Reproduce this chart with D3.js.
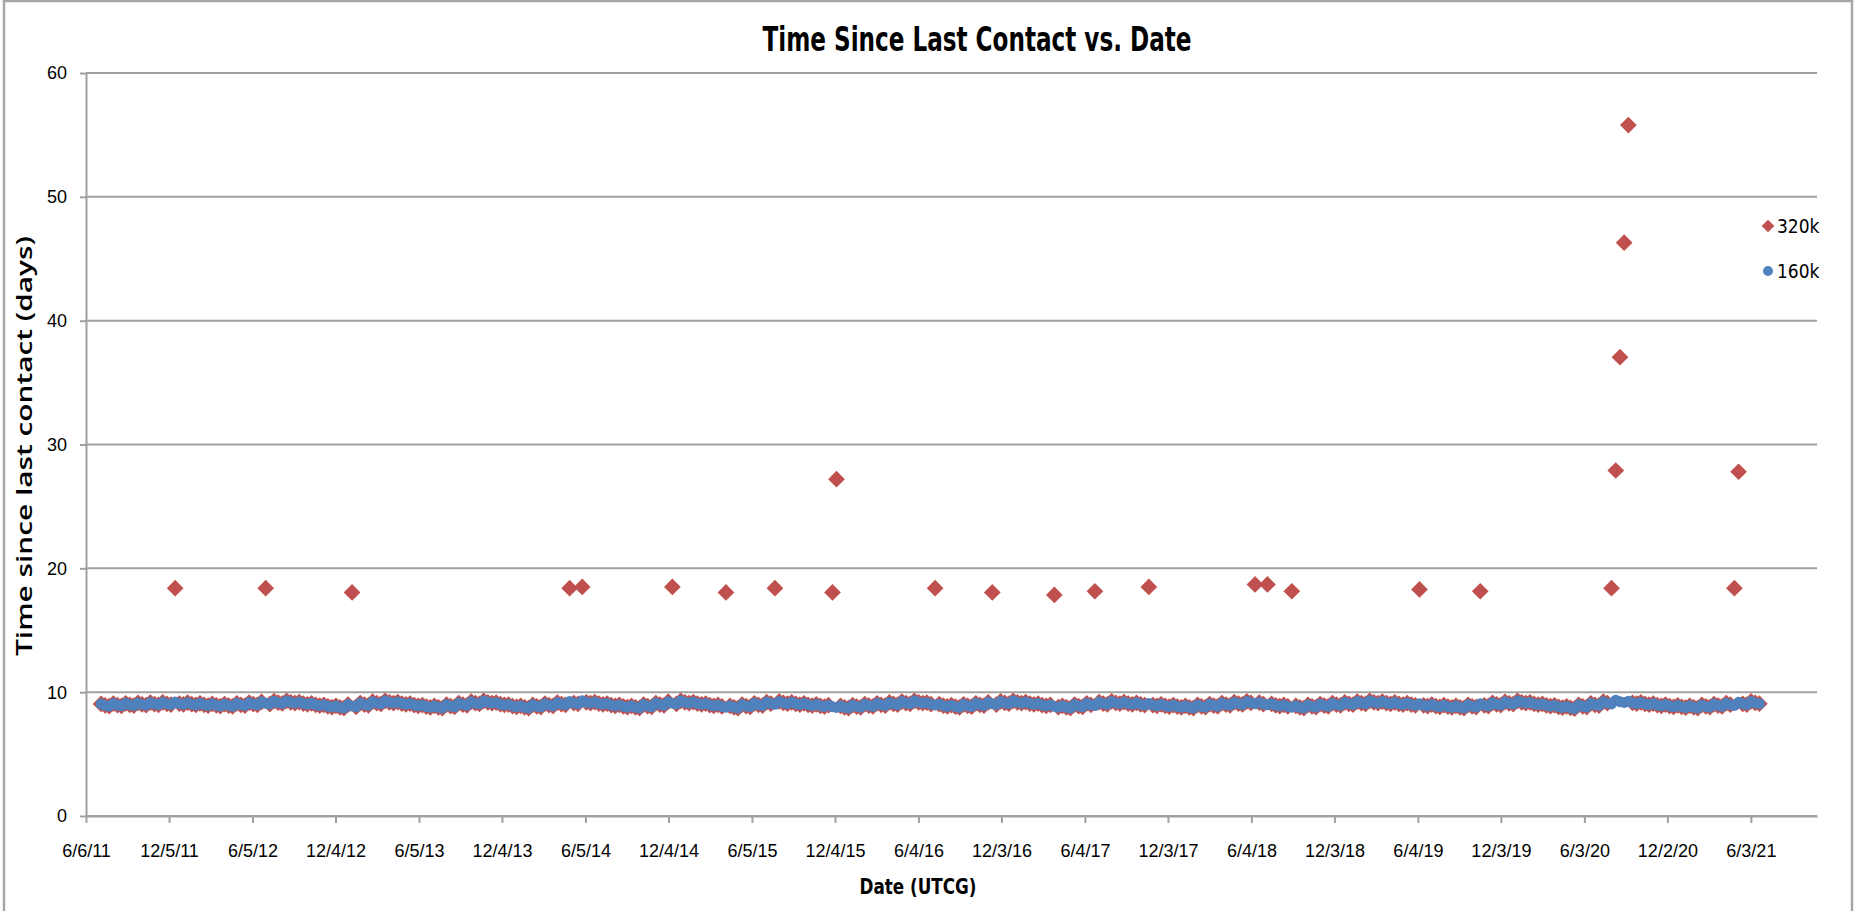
<!DOCTYPE html>
<html>
<head>
<meta charset="utf-8">
<script src="https://d3js.org/d3.v7.min.js"></script>
<style>
  body { margin: 0; background: #fff; }
  text { font-family: "Liberation Sans Narrow", "DejaVu Sans Condensed", sans-serif; fill: #000; }
</style>
</head>
<body>
<div id="chart"></div>
<script>
// ---- data ----
var xTickLabels = ["6/6/11", "12/5/11", "6/5/12", "12/4/12", "6/5/13", "12/4/13", "6/5/14",
    "12/4/14", "6/5/15", "12/4/15", "6/4/16", "12/3/16", "6/4/17", "12/3/17", "6/4/18",
    "12/3/18", "6/4/19", "12/3/19", "6/3/20", "12/2/20", "6/3/21"];
var yTicks = [0, 10, 20, 30, 40, 50, 60];
var xStart = "6/6/11", xEnd = "10/26/21";
var firstContact = "6/30/11";

// time since last contact (days) at each pass, 160k; pass dates follow from the gaps
var gaps160 = [
 9.05,8.93,8.87, 9.08,8.96,8.90, 9.10,8.98,8.92, 9.13,9.01,8.95, 9.16,9.04,8.98, 9.18,9.06,9.00,
 9.20,9.08,9.02, 9.15,9.03,8.97, 9.10,8.98,8.92, 9.06,8.94,8.88, 9.04,8.92,8.86, 9.10,8.98,8.92,
 9.16,9.04,8.98, 9.22,9.10,9.04, 9.27,9.15,9.09, 9.30,9.18,9.12, 9.20,9.08,9.02, 9.10,8.98,8.92,
 8.98,8.86,8.80, 8.90,8.78,8.72, 9.00,8.88,8.82, 9.12,9.00,8.94, 9.23,9.11,9.05, 9.30,9.18,9.12,
 9.20,9.08,9.02, 9.08,8.96,8.90, 8.96,8.84,8.78, 8.90,8.78,8.72, 9.00,8.88,8.82, 9.12,9.00,8.94,
 9.23,9.11,9.05, 9.30,9.18,9.12, 9.15,9.03,8.97, 9.00,8.88,8.82, 8.90,8.78,8.72, 8.98,8.86,8.80,
 9.07,8.95,8.89, 9.16,9.04,8.98, 9.24,9.12,9.06, 9.30,9.18,9.12, 9.20,9.08,9.02, 9.08,8.96,8.90,
 8.97,8.85,8.79, 8.90,8.78,8.72, 9.00,8.88,8.82, 9.12,9.00,8.94, 9.23,9.11,9.05, 9.30,9.18,9.12,
 9.20,9.08,9.02, 9.08,8.96,8.90, 8.97,8.85,8.79, 8.90,8.78,8.72, 9.00,8.88,8.82, 9.10,8.98,8.92,
 9.20,9.08,9.02, 9.25,9.13,9.07, 9.18,9.06,9.00, 9.10,8.98,8.92, 9.02,8.90,8.84, 8.95,8.83,8.77,
 8.90,8.78,8.72, 8.96,8.84,8.78, 9.03,8.91,8.85, 9.10,8.98,8.92, 9.17,9.05,8.99, 9.24,9.12,9.06,
 9.30,9.18,9.12, 9.15,9.03,8.97, 9.03,8.91,8.85, 8.95,8.83,8.77, 9.02,8.90,8.84, 9.10,8.98,8.92,
 9.18,9.06,9.00, 9.25,9.13,9.07, 9.30,9.18,9.12, 9.20,9.08,9.02, 9.08,8.96,8.90, 8.97,8.85,8.79,
 8.90,8.78,8.72, 9.00,8.88,8.82, 9.10,8.98,8.92, 9.20,9.08,9.02, 9.25,9.13,9.07, 9.20,9.08,9.02,
 9.14,9.02,8.96, 9.08,8.96,8.90, 9.02,8.90,8.84, 8.96,8.84,8.78, 8.90,8.78,8.72, 8.97,8.85,8.79,
 9.04,8.92,8.86, 9.12,9.00,8.94, 9.19,9.07,9.01, 9.25,9.13,9.07, 9.16,9.04,8.98, 9.06,8.94,8.88,
 8.97,8.85,8.79, 8.90,8.78,8.72, 8.97,8.85,8.79, 9.04,8.92,8.86, 9.11,8.99,8.93, 9.18,9.06,9.00,
 9.24,9.12,9.06, 9.30,9.18,9.12, 9.24,9.12,9.06, 9.18,9.06,9.00, 9.12,9.00,8.94, 9.06,8.94,8.88,
 9.00,8.88,8.82, 8.95,8.83,8.77, 8.90,8.78,8.72, 8.98,8.86,8.80, 9.06,8.94,8.88, 9.14,9.02,8.96,
 9.22,9.10,9.04, 9.30,9.18,9.12, 9.17,9.05,8.99, 9.05,8.93,8.87, 8.94,8.82,8.76, 8.85,8.73,8.67,
 8.98,8.86,8.80, 9.10,8.98,8.92, 9.23,9.11,9.05, 9.35,9.23,9.17, 9.26,9.14,9.08, 9.17,9.05,8.99,
 9.08,8.96,8.90, 9.00,8.88,8.82, 8.94,8.82,8.76, 8.90,8.78,8.72, 8.97,8.85,8.79, 9.04,8.92,8.86,
 9.11,8.99,8.93, 9.18,9.06,9.00, 9.25,9.13,9.07
];

// 320k shares the pass dates; these passes show a longer time since last contact
var miss320Index = [18, 40, 61, 114, 117, 139, 152, 164, 178, 179, 203, 217, 232, 242, 255,
    281, 284, 290, 321, 336, 368, 369, 370, 371, 372, 398, 399];
var miss320Value = [18.4, 18.4, 18.05, 18.4, 18.5, 18.5, 18.05, 18.4, 18.05, 27.2, 18.4, 18.05, 17.85, 18.15, 18.5,
    18.7, 18.7, 18.15, 18.3, 18.15, 18.4, 27.9, 37.05, 46.3, 55.8, 18.4, 27.8];

var seriesNames = ["320k", "160k"];
var colors = ["#C0504D", "#4F81BD"];

// ---- build ----
var parse = d3.timeParse("%m/%d/%y");
var t = parse(firstContact).getTime();
var pts160 = gaps160.map(function (g) {
    t += g * 864e5;
    return { date: new Date(t), v: g };
});
var pts320 = pts160.map(function (d, i) {
    var k = miss320Index.indexOf(i);
    return { date: d.date, v: k < 0 ? d.v : miss320Value[k] };
});

var W = 1854, H = 911;
var m = { left: 86, top: 73, right: 37, bottom: 95 };
var w = W - m.left - m.right, h = H - m.top - m.bottom;

var svg = d3.select("#chart").append("svg").attr("width", W).attr("height", H);

svg.append("rect").attr("x", 4).attr("y", 1).attr("width", 1848).attr("height", 940)
    .attr("fill", "#fff").attr("stroke", "#a6a6a6").attr("stroke-width", 2.5);

var x = d3.scaleTime().domain([parse(xStart), parse(xEnd)]).range([0, w]);
var y = d3.scaleLinear().domain([0, 60]).range([h, 0]);

var g = svg.append("g").attr("transform", "translate(" + m.left + "," + m.top + ")");

// gridlines
g.append("g").selectAll("line").data(yTicks).enter().append("line")
    .attr("x1", 0).attr("x2", w)
    .attr("y1", function (d) { return y(d); }).attr("y2", function (d) { return y(d); })
    .attr("stroke", "#a0a0a0").attr("stroke-width", 2);

var yAxis = g.append("g").call(d3.axisLeft(y).tickValues(yTicks).tickSize(6).tickSizeOuter(0));
yAxis.selectAll("path, line").attr("stroke", "#a0a0a0").attr("stroke-width", 2);
yAxis.selectAll("text").attr("x", -19).attr("dy", "0.33em")
    .style("font-size", "18px").style("font-family", "'Liberation Sans Narrow', sans-serif");

var tickDates = xTickLabels.map(parse);
var xAxis = g.append("g").attr("transform", "translate(0," + h + ")")
    .call(d3.axisBottom(x).tickValues(tickDates).tickSize(7).tickSizeOuter(0)
        .tickFormat(function (d, i) { return xTickLabels[i]; }));
xAxis.selectAll("path, line").attr("stroke", "#a0a0a0").attr("stroke-width", 2);
xAxis.selectAll("text").attr("y", 35).attr("dy", "0.35em")
    .style("font-size", "18px").style("font-family", "'Liberation Sans Narrow', sans-serif");

// markers
var diamond = d3.symbol().type(d3.symbolSquare).size(140);
g.append("g").selectAll("path").data(pts320).enter().append("path")
    .attr("d", diamond)
    .attr("transform", function (d) { return "translate(" + x(d.date) + "," + y(d.v) + ") rotate(45)"; })
    .attr("fill", colors[0]);

g.append("g").selectAll("circle").data(pts160).enter().append("circle")
    .attr("cx", function (d) { return x(d.date); })
    .attr("cy", function (d) { return y(d.v); })
    .attr("r", 5.5)
    .attr("fill", colors[1]);

// titles
svg.append("text").attr("x", 977).attr("y", 51).attr("text-anchor", "middle")
    .attr("textLength", 429).attr("lengthAdjust", "spacingAndGlyphs")
    .style("font-size", "34px").style("font-weight", "bold")
    .text("Time Since Last Contact vs. Date");

svg.append("text").attr("x", 918).attr("y", 894).attr("text-anchor", "middle")
    .attr("textLength", 117).attr("lengthAdjust", "spacingAndGlyphs")
    .style("font-size", "21px").style("font-weight", "bold")
    .text("Date (UTCG)");

svg.append("text").attr("transform", "translate(32,446) rotate(-90)").attr("text-anchor", "middle")
    .attr("textLength", 420).attr("lengthAdjust", "spacingAndGlyphs")
    .style("font-family", "'Open Sans', 'DejaVu Sans', sans-serif")
    .style("font-size", "22px").style("font-weight", "600")
    .text("Time since last contact (days)");

// legend
var leg = svg.append("g").attr("transform", "translate(1768,226)");
leg.append("path").attr("d", d3.symbol().type(d3.symbolSquare).size(80)).attr("transform", "rotate(45)")
    .attr("fill", colors[0]);
leg.append("circle").attr("cy", 45).attr("r", 5).attr("fill", colors[1]);
leg.selectAll("text").data(seriesNames).enter().append("text")
    .attr("x", 9).attr("y", function (d, i) { return i * 45; }).attr("dy", "0.35em")
    .style("font-size", "19px")
    .text(function (d) { return d; });
</script>
</body>
</html>
